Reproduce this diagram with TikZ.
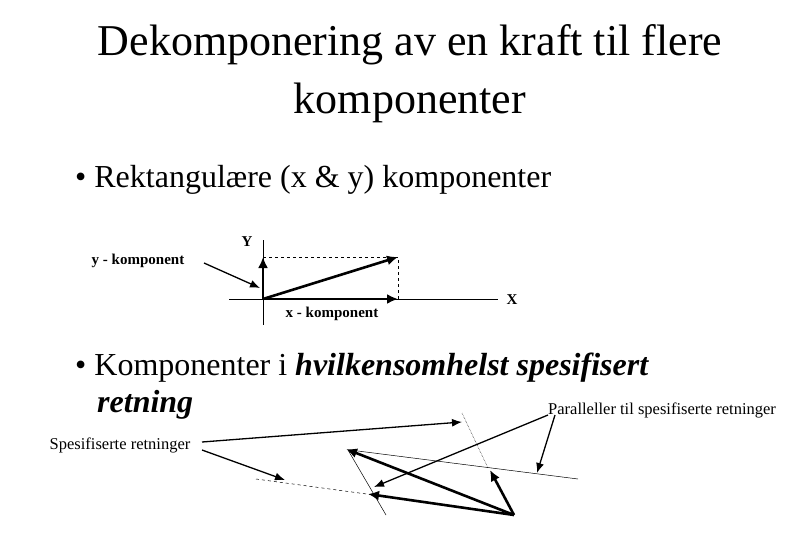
\documentclass[tikz,border=0pt]{standalone}
\usepackage{fontspec}
\setmainfont{Liberation Serif}
\usetikzlibrary{arrows.meta}
\begin{document}
\begin{tikzpicture}[x=1pt,y=-1pt,
  thick arr/.style={line width=2.6pt,-{Latex[length=11pt,width=10pt]}},
  med arr/.style={line width=1.3pt,-{Latex[length=10pt,width=8pt]}},
  thin line/.style={line width=0.5pt},
  lbl/.style={font=\fontsize{15}{16}\selectfont\bfseries,inner sep=0pt},
  sml/.style={font=\fontsize{16.5}{18}\selectfont,inner sep=0pt}]
\useasboundingbox (0,0) rectangle (810,540);
\node[align=center,font=\fontsize{44}{58}\selectfont] (title) at (410,74) {Dekomponering av en kraft til flere\\komponenter};
\node[anchor=west,font=\fontsize{32}{36}\selectfont,inner sep=0pt] (b1) at (75,180) {\textbullet\ Rektangulære (x \& y) komponenter};
\node[anchor=west,font=\fontsize{32}{36}\selectfont,inner sep=0pt] (b2) at (75,368) {\textbullet\ Komponenter i \textbf{\textit{hvilkensomhelst spesifisert}}};
\node[anchor=west,font=\fontsize{32}{36}\selectfont\bfseries\itshape,inner sep=0pt] (b3) at (97,405) {retning};
% top diagram
\coordinate (O) at (263,299);
\coordinate (Yt) at (263,240); \coordinate (Yb) at (263,325);
\coordinate (Xl) at (229,299); \coordinate (Xr) at (498,299);
\coordinate (Px) at (398,299); \coordinate (Py) at (263,257); \coordinate (P) at (398,257);
\draw[thin line] (Yt) -- (Yb);
\draw[thin line] (Xl) -- (Xr);
\draw[dashed,thin line] (Py) -- (P) -- (Px);
\draw[thick arr] (O) -- (Px);
\draw[thick arr] (O) -- (Py);
\draw[thick arr] (O) -- (P);
\node[lbl] (Ylab) at (247,242) {Y};
\node[lbl] (Xlab) at (512,300) {X};
\node[lbl] (ylab) at (138,261) {y - komponent};
\node[lbl] (xlab) at (332,314) {x - komponent};
\coordinate (ya) at (204,263);
\draw[med arr] (ya) -- (260,288);
% bottom diagram
\node[sml] (spes) at (120,445) {Spesifiserte retninger};
\node[sml,anchor=west] (par) at (548,410) {Paralleller til spesifiserte retninger};
\coordinate (sA) at (202,442); \coordinate (eA) at (462,422);
\coordinate (sB) at (202,450); \coordinate (eB) at (285,480);
\draw[med arr] (sA) -- (eA);
\draw[med arr] (sB) -- (eB);
\draw[dashed,thin line] (256,479) -- (374,495);
\draw[densely dotted,thin line] (462,413) -- (488,468);
\draw[thin line] (348,450) -- (386,515);
\draw[thin line] (350,450) -- (578,479);
\coordinate (V) at (514,515);
\draw[thick arr] (V) -- (346,449);
\draw[thick arr] (V) -- (368,494);
\draw[thick arr] (V) -- (490,470);
\coordinate (p1) at (548,415); \coordinate (p2) at (555,415);
\draw[med arr] (p1) -- (374,487);
\draw[med arr] (p2) -- (537,473);
\end{tikzpicture}
\end{document}
